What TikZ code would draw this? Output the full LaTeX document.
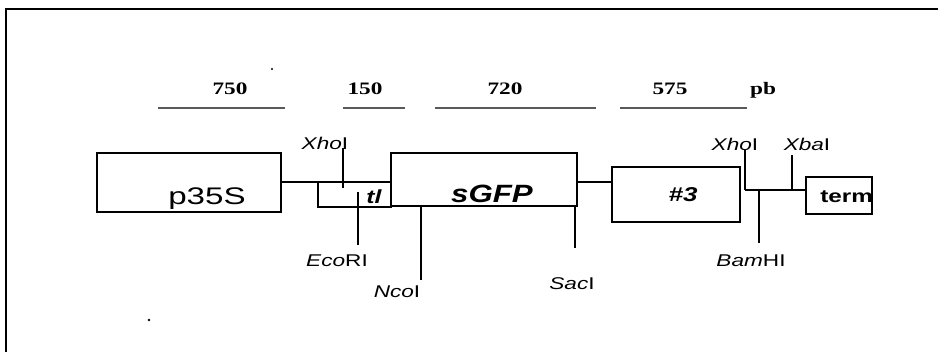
\documentclass[tikz,border=0pt]{standalone}
\usepackage{fontspec}
\setmainfont{Liberation Sans}
\newfontfamily\numfont{Liberation Serif}
\begin{document}
\begin{tikzpicture}[x=1pt,y=-1pt,
  box/.style={draw,line width=2.4pt,inner sep=0pt,outer sep=0pt},
  conn/.style={line width=2.2pt},
  tick/.style={line width=1.6pt},
  ruler/.style={gray!70!black,line width=1.2pt},
  site/.style={anchor=base,inner sep=0pt,font=\fontsize{17}{19}\selectfont,xscale=1.33},
  num/.style={anchor=base,inner sep=0pt,font=\numfont\bfseries\fontsize{17.5}{19}\selectfont,xscale=1.33},
  lab/.style={anchor=base,inner sep=0pt}]
\useasboundingbox (0,0) rectangle (938,352);
% frame
\draw[line width=2pt] (6,352) -- (6,9) -- (938,9);
% dots
\fill (272,69) circle (1.1pt);
\fill (149,320) circle (1.3pt);
% size ruler
\node[num] (n750) at (230,95) {750};
\node[num] (n150) at (365,95) {150};
\node[num] (n720) at (505,95) {720};
\node[num] (n575) at (670,95) {575};
\node[num] (npb) at (763,95) {pb};
\draw[ruler] (158,108) -- (285,108);
\draw[ruler] (343,108) -- (405,108);
\draw[ruler] (435,108) -- (596,108);
\draw[ruler] (620,108) -- (747,108);
% boxes
\node[box,minimum width=184pt,minimum height=59pt] (p35S) at (189,182.5) {};
\node[box,minimum width=73pt,minimum height=25pt] (tl) at (354.5,194.5) {};
\node[box,minimum width=186pt,minimum height=53pt] (sGFP) at (484,179.5) {};
\node[box,minimum width=128pt,minimum height=55pt] (n3) at (676,194.5) {};
\node[box,minimum width=66pt,minimum height=37pt] (term) at (839,195.5) {};
% box texts
\node[lab,font=\fontsize{24}{26}\selectfont,xscale=1.38] (tp35S) at (207,205) {p35S};
\node[lab,font=\bfseries\itshape\fontsize{19}{21}\selectfont,xscale=1.3] (ttl) at (374,204) {tl};
\node[lab,font=\bfseries\itshape\fontsize{25}{27}\selectfont,xscale=1.25] (tsGFP) at (492,203) {sGFP};
\node[lab,font=\bfseries\itshape\fontsize{20}{22}\selectfont,xscale=1.3] (tn3) at (683,202) {\#3};
\begin{scope}
\clip (term.south west) rectangle (871,177);
\node[lab,anchor=base west,font=\bfseries\fontsize{18}{20}\selectfont,xscale=1.35] (tterm) at (820,203) {term};
\end{scope}
\draw[box] (term.south west) rectangle (term.north east);
% connectors
\coordinate (c1) at (p35S.east |- 0,182);
\draw[conn] (c1) -- (c1 -| sGFP.west);
\coordinate (c2) at (sGFP.east |- 0,182);
\draw[conn] (c2) -- (c2 -| n3.west);
\coordinate (jx) at (745,190);
\draw[conn] (jx) -- (jx -| term.west);
% restriction sites
\node[site] (xho1) at (325,150) {\textit{Xho}I};
\node[site] (eco) at (337,267) {\textit{Eco}RI};
\node[site] (nco) at (397,298) {\textit{Nco}I};
\node[site] (sac) at (572,290) {\textit{Sac}I};
\node[site] (xho2) at (735,151) {\textit{Xho}I};
\node[site] (xba) at (807,151) {\textit{Xba}I};
\node[site] (bam) at (751,267) {\textit{Bam}HI};
\coordinate (x1a) at (343,148); \coordinate (x1b) at (343,188);
\draw[tick] (x1a) -- (x1b);
\coordinate (e1a) at (358,192); \coordinate (e1b) at (358,245);
\draw[tick] (e1a) -- (e1b);
\coordinate (n1a) at (421,206); \coordinate (n1b) at (421,280);
\draw[tick] (n1a) -- (n1b);
\coordinate (s1a) at (575,206); \coordinate (s1b) at (575,248);
\draw[tick] (s1a) -- (s1b);
\coordinate (x2a) at (745,150);
\draw[tick] (x2a) -- (jx);
\coordinate (xba1) at (792,155); \coordinate (xba2) at (792,190);
\draw[tick] (xba1) -- (xba2);
\coordinate (b1a) at (759,190); \coordinate (b1b) at (759,243);
\draw[tick] (b1a) -- (b1b);
\end{tikzpicture}
\end{document}
